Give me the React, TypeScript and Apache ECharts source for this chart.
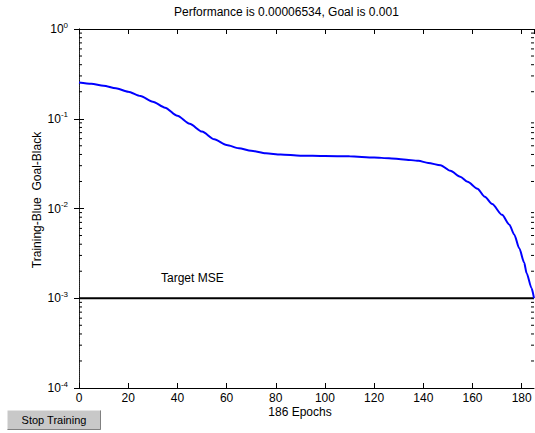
import React, { useEffect, useRef } from "react";
import * as echarts from "echarts";

const epochs = [0, 5, 10, 15, 20, 25, 30, 35, 40, 45, 50, 55, 60, 65, 70, 76, 82, 90, 100, 110, 120, 126, 132, 138, 142, 147, 151, 155, 158, 162, 165, 168, 172, 175, 177, 179, 181, 182, 184, 185];
const performance = [0.254, 0.245, 0.233, 0.218, 0.2, 0.179, 0.155, 0.133, 0.108, 0.088, 0.072, 0.059, 0.051, 0.047, 0.044, 0.0412, 0.04, 0.0388, 0.0384, 0.0381, 0.037, 0.0363, 0.0352, 0.034, 0.0322, 0.0303, 0.0263, 0.0226, 0.0198, 0.0166, 0.0135, 0.0112, 0.0085, 0.0066, 0.0051, 0.0036, 0.0025, 0.0019, 0.0013, 0.001];
const goal = 0.001;
const xMax = 185;
const minorTicks = [2, 3, 4, 5, 6, 7, 8, 9].flatMap((m) => [1e-4, 1e-3, 1e-2, 1e-1].map((d) => m * d));

const titleText = "Performance is 0.00006534, Goal is 0.001";
const xLabel = "186 Epochs";
const yLabel = "Training-Blue  Goal-Black";
const goalLabel = "Target MSE";
const buttonLabel = "Stop Training";

const FONT = "Liberation Sans, Arial, Helvetica, sans-serif";

export default function App() {
  const ref = useRef<HTMLDivElement>(null);
  useEffect(() => {
    if (!ref.current) return;
    const chart = echarts.init(ref.current, null, { renderer: "svg" });
    const yFmt = (v: number) => `{b|10}{s|${Math.round(Math.log10(v))}}`;
    const rich = {
      b: { fontSize: 12, fontFamily: FONT, color: "#000" },
      s: { fontSize: 8, fontFamily: FONT, color: "#000", padding: [0, 0, 8, 0] },
    };
    chart.setOption({
      animation: false,
      backgroundColor: "#fff",
      textStyle: { fontFamily: FONT },
      grid: { left: 79, right: 1, top: 29, bottom: 45, containLabel: false },
      xAxis: [
        {
          type: "value",
          min: 0,
          max: xMax,
          interval: 20,
          position: "bottom",
          axisLine: { show: true, lineStyle: { color: "#000", width: 1 } },
          axisTick: { show: true, inside: true, length: 5, lineStyle: { color: "#000" } },
          axisLabel: {
            color: "#000",
            fontSize: 12,
            fontFamily: FONT,
            margin: 4,
            showMaxLabel: false,
            formatter: (v: number) => (v % 20 === 0 ? String(v) : ""),
          },
          splitLine: { show: false },
        },
        {
          type: "value",
          min: 0,
          max: xMax,
          interval: 20,
          position: "top",
          axisLine: { show: true, lineStyle: { color: "#000", width: 1 } },
          axisTick: { show: true, inside: true, length: 5, lineStyle: { color: "#000" } },
          axisLabel: { show: false },
          splitLine: { show: false },
        },
      ],
      yAxis: [
        {
          type: "log",
          logBase: 10,
          min: 1e-4,
          max: 1,
          position: "left",
          axisLine: { show: true, lineStyle: { color: "#000", width: 1 } },
          axisTick: { show: true, inside: true, length: 5, lineStyle: { color: "#000" } },
          axisLabel: { color: "#000", margin: 11, formatter: yFmt, rich },
          splitLine: { show: false },
        },
        {
          type: "log",
          logBase: 10,
          min: 1e-4,
          max: 1,
          position: "right",
          axisLine: { show: true, lineStyle: { color: "#333", width: 1, type: "dotted" } },
          axisTick: { show: true, inside: true, length: 5, lineStyle: { color: "#000" } },
          axisLabel: { show: false },
          splitLine: { show: false },
        },
      ],
      series: [
        {
          type: "custom",
          xAxisIndex: 0,
          yAxisIndex: 0,
          silent: true,
          clip: false,
          encode: { x: 0, y: 1 },
          data: minorTicks.map((v) => [0, v]),
          renderItem: (_p: any, api: any) => {
            const v = api.value(1);
            const l = api.coord([0, v]);
            const r = api.coord([xMax, v]);
            return {
              type: "group",
              children: [
                { type: "line", shape: { x1: l[0], y1: l[1], x2: l[0] + 3, y2: l[1] }, style: { stroke: "#000", lineWidth: 1 } },
                { type: "line", shape: { x1: r[0], y1: r[1], x2: r[0] - 3, y2: r[1] }, style: { stroke: "#000", lineWidth: 1 } },
              ],
            };
          },
        },
        {
          type: "line",
          name: "Goal",
          xAxisIndex: 0,
          yAxisIndex: 0,
          data: [[0, goal], [xMax, goal]],
          showSymbol: false,
          lineStyle: { color: "#000", width: 2 },
        },
        {
          type: "line",
          name: "Training",
          xAxisIndex: 0,
          yAxisIndex: 0,
          data: epochs.map((e, i) => [e, performance[i]]),
          showSymbol: false,
          smooth: 0.25,
          smoothMonotone: "x",
          lineStyle: { color: "#0000ff", width: 2 },
        },
      ],
      graphic: [
        { type: "text", left: 298 - 124, top: 6, style: { text: titleText, fontSize: 12, fontFamily: FONT, fill: "#000" } },
        { type: "text", x: 300, y: 412, style: { text: xLabel, fontSize: 12, fontFamily: FONT, fill: "#000", align: "center", verticalAlign: "middle" } },
        { type: "text", x: 37, y: 200, rotation: Math.PI / 2, style: { text: yLabel, fontSize: 12, fontFamily: FONT, fill: "#000", align: "center", verticalAlign: "middle" } },
        { type: "text", x: 161, y: 278, style: { text: goalLabel, fontSize: 12, fontFamily: FONT, fill: "#000", align: "left", verticalAlign: "middle" } },
        { type: "rect", shape: { x: 7, y: 410, width: 94, height: 20 }, style: { fill: "#c8c8c8", stroke: "none" } },
        { type: "polyline", shape: { points: [[7, 430], [7, 410], [101, 410]] }, style: { stroke: "#ffffff", lineWidth: 1, fill: "none" } },
        { type: "polyline", shape: { points: [[7.5, 429.5], [100.5, 429.5], [100.5, 410.5]] }, style: { stroke: "#808080", lineWidth: 1, fill: "none" } },
        { type: "text", x: 54, y: 420, style: { text: buttonLabel, fontSize: 11, fontFamily: FONT, fill: "#000", align: "center", verticalAlign: "middle" } },
      ],
    });
    return () => chart.dispose();
  }, []);
  return <div ref={ref} style={{ width: 535, height: 433, position: "absolute", left: 0, top: 0 }} />;
}
